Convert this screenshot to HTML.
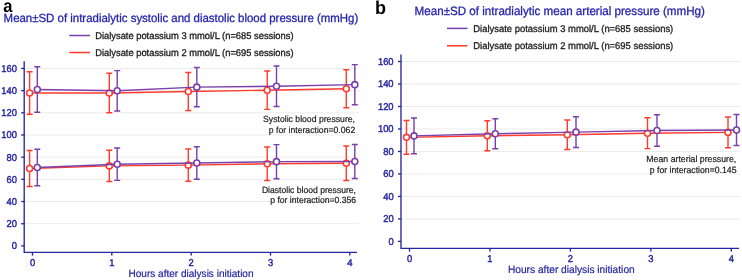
<!DOCTYPE html>
<html><head><meta charset="utf-8"><style>
html,body{margin:0;padding:0;background:#fff;width:742px;height:280px;overflow:hidden}
svg{display:block;will-change:transform}
text{font-family:"Liberation Sans", sans-serif;text-rendering:geometricPrecision}
</style></head><body>
<svg width="742" height="280" viewBox="0 0 742 280">
<rect width="742" height="280" fill="#fff"/>
<text transform="translate(3.2 12.1) scale(1 1.1)" font-size="16.5" fill="#000" font-weight="bold">a</text>
<text transform="translate(375 14.2) scale(1 1.04)" font-size="18" fill="#000" font-weight="bold">b</text>
<text transform="translate(3.6 21.5) scale(1 1.04)" font-size="11.45" fill="#2626ae" stroke="#2626ae" stroke-width="0.3">Mean±SD of intradialytic systolic and diastolic blood pressure (mmHg)</text>
<text transform="translate(414.6 14.8) scale(1 1.04)" font-size="11.62" fill="#2626ae" stroke="#2626ae" stroke-width="0.3">Mean±SD of intradialytic mean arterial pressure (mmHg)</text>
<line x1="69.3" y1="35.5" x2="90" y2="35.5" stroke="#7a3fab" stroke-width="1.5"/>
<line x1="69.3" y1="52.5" x2="90" y2="52.5" stroke="#ff3b2b" stroke-width="1.5"/>
<text transform="translate(95.2 38.8) scale(1 1.04)" font-size="9.35" fill="#1c1c1c" stroke="#1c1c1c" stroke-width="0.3">Dialysate potassium 3 mmol/L (n=685 sessions)</text>
<text transform="translate(95.2 55.7) scale(1 1.04)" font-size="9.35" fill="#1c1c1c" stroke="#1c1c1c" stroke-width="0.3">Dialysate potassium 2 mmol/L (n=695 sessions)</text>
<line x1="447" y1="28.4" x2="467.5" y2="28.4" stroke="#7a3fab" stroke-width="1.5"/>
<line x1="447" y1="45.8" x2="467.5" y2="45.8" stroke="#ff3b2b" stroke-width="1.5"/>
<text transform="translate(473.3 31.5) scale(1 1.04)" font-size="9.43" fill="#1c1c1c" stroke="#1c1c1c" stroke-width="0.3">Dialysate potassium 3 mmol/L (n=685 sessions)</text>
<text transform="translate(473.3 48.8) scale(1 1.04)" font-size="9.43" fill="#1c1c1c" stroke="#1c1c1c" stroke-width="0.3">Dialysate potassium 2 mmol/L (n=695 sessions)</text>
<line x1="24.9" y1="68.45" x2="359" y2="68.45" stroke="#ebebeb" stroke-width="1"/>
<line x1="24.9" y1="90.63" x2="359" y2="90.63" stroke="#ebebeb" stroke-width="1"/>
<line x1="24.9" y1="112.81" x2="359" y2="112.81" stroke="#ebebeb" stroke-width="1"/>
<line x1="24.9" y1="134.99" x2="359" y2="134.99" stroke="#ebebeb" stroke-width="1"/>
<line x1="24.9" y1="157.17" x2="359" y2="157.17" stroke="#ebebeb" stroke-width="1"/>
<line x1="24.9" y1="179.35" x2="359" y2="179.35" stroke="#ebebeb" stroke-width="1"/>
<line x1="24.9" y1="201.53" x2="359" y2="201.53" stroke="#ebebeb" stroke-width="1"/>
<line x1="24.9" y1="223.71" x2="359" y2="223.71" stroke="#ebebeb" stroke-width="1"/>
<path d="M24.2 61.2 V252.3 H357" fill="none" stroke="#2626a2" stroke-width="1.35"/>
<line x1="21.2" y1="68.45" x2="24.2" y2="68.45" stroke="#2626a2" stroke-width="1.35"/>
<text transform="translate(16.9 71.85) scale(1 1.06)" font-size="9.4" fill="#2626a2" stroke="#2626a2" stroke-width="0.4" text-anchor="end">160</text>
<line x1="21.2" y1="90.63" x2="24.2" y2="90.63" stroke="#2626a2" stroke-width="1.35"/>
<text transform="translate(16.9 94.03) scale(1 1.06)" font-size="9.4" fill="#2626a2" stroke="#2626a2" stroke-width="0.4" text-anchor="end">140</text>
<line x1="21.2" y1="112.81" x2="24.2" y2="112.81" stroke="#2626a2" stroke-width="1.35"/>
<text transform="translate(16.9 116.21) scale(1 1.06)" font-size="9.4" fill="#2626a2" stroke="#2626a2" stroke-width="0.4" text-anchor="end">120</text>
<line x1="21.2" y1="134.99" x2="24.2" y2="134.99" stroke="#2626a2" stroke-width="1.35"/>
<text transform="translate(16.9 138.39) scale(1 1.06)" font-size="9.4" fill="#2626a2" stroke="#2626a2" stroke-width="0.4" text-anchor="end">100</text>
<line x1="21.2" y1="157.17" x2="24.2" y2="157.17" stroke="#2626a2" stroke-width="1.35"/>
<text transform="translate(16.9 160.57) scale(1 1.06)" font-size="9.4" fill="#2626a2" stroke="#2626a2" stroke-width="0.4" text-anchor="end">80</text>
<line x1="21.2" y1="179.35" x2="24.2" y2="179.35" stroke="#2626a2" stroke-width="1.35"/>
<text transform="translate(16.9 182.75) scale(1 1.06)" font-size="9.4" fill="#2626a2" stroke="#2626a2" stroke-width="0.4" text-anchor="end">60</text>
<line x1="21.2" y1="201.53" x2="24.2" y2="201.53" stroke="#2626a2" stroke-width="1.35"/>
<text transform="translate(16.9 204.93) scale(1 1.06)" font-size="9.4" fill="#2626a2" stroke="#2626a2" stroke-width="0.4" text-anchor="end">40</text>
<line x1="21.2" y1="223.71" x2="24.2" y2="223.71" stroke="#2626a2" stroke-width="1.35"/>
<text transform="translate(16.9 227.11) scale(1 1.06)" font-size="9.4" fill="#2626a2" stroke="#2626a2" stroke-width="0.4" text-anchor="end">20</text>
<line x1="21.2" y1="245.89" x2="24.2" y2="245.89" stroke="#2626a2" stroke-width="1.35"/>
<text transform="translate(16.9 249.29) scale(1 1.06)" font-size="9.4" fill="#2626a2" stroke="#2626a2" stroke-width="0.4" text-anchor="end">0</text>
<line x1="32.5" y1="252.3" x2="32.5" y2="255.60000000000002" stroke="#2626a2" stroke-width="1.35"/>
<text transform="translate(32.5 265.7) scale(1 1.06)" font-size="9.4" fill="#2626a2" stroke="#2626a2" stroke-width="0.4" text-anchor="middle">0</text>
<line x1="111.8" y1="252.3" x2="111.8" y2="255.60000000000002" stroke="#2626a2" stroke-width="1.35"/>
<text transform="translate(111.8 265.7) scale(1 1.06)" font-size="9.4" fill="#2626a2" stroke="#2626a2" stroke-width="0.4" text-anchor="middle">1</text>
<line x1="191.2" y1="252.3" x2="191.2" y2="255.60000000000002" stroke="#2626a2" stroke-width="1.35"/>
<text transform="translate(191.2 265.7) scale(1 1.06)" font-size="9.4" fill="#2626a2" stroke="#2626a2" stroke-width="0.4" text-anchor="middle">2</text>
<line x1="270.5" y1="252.3" x2="270.5" y2="255.60000000000002" stroke="#2626a2" stroke-width="1.35"/>
<text transform="translate(270.5 265.7) scale(1 1.06)" font-size="9.4" fill="#2626a2" stroke="#2626a2" stroke-width="0.4" text-anchor="middle">3</text>
<line x1="349.8" y1="252.3" x2="349.8" y2="255.60000000000002" stroke="#2626a2" stroke-width="1.35"/>
<text transform="translate(349.8 265.7) scale(1 1.06)" font-size="9.4" fill="#2626a2" stroke="#2626a2" stroke-width="0.4" text-anchor="middle">4</text>
<path d="M29.6 150.50 V186.50 M26.6 150.50 H32.6 M26.6 186.50 H32.6 M109.3 150.30 V181.50 M106.3 150.30 H112.3 M106.3 181.50 H112.3 M188.3 149.00 V181.30 M185.3 149.00 H191.3 M185.3 181.30 H191.3 M267.2 147.00 V180.50 M264.2 147.00 H270.2 M264.2 180.50 H270.2 M346.3 146.00 V180.50 M343.3 146.00 H349.3 M343.3 180.50 H349.3" fill="none" stroke="#ff3b2b" stroke-width="1.4"/>
<polyline points="29.6,168.5 109.3,165.9 188.3,165.15 267.2,163.75 346.3,163.25" fill="none" stroke="#ff3b2b" stroke-width="1.45"/>
<circle cx="29.6" cy="168.5" r="3.0" fill="#fff" stroke="#ff3b2b" stroke-width="1.6"/>
<circle cx="109.3" cy="165.9" r="3.0" fill="#fff" stroke="#ff3b2b" stroke-width="1.6"/>
<circle cx="188.3" cy="165.15" r="3.0" fill="#fff" stroke="#ff3b2b" stroke-width="1.6"/>
<circle cx="267.2" cy="163.75" r="3.0" fill="#fff" stroke="#ff3b2b" stroke-width="1.6"/>
<circle cx="346.3" cy="163.25" r="3.0" fill="#fff" stroke="#ff3b2b" stroke-width="1.6"/>
<path d="M29.6 71.80 V114.20 M26.6 71.80 H32.6 M26.6 114.20 H32.6 M109.3 73.20 V112.80 M106.3 73.20 H112.3 M106.3 112.80 H112.3 M188.3 72.50 V110.50 M185.3 72.50 H191.3 M185.3 110.50 H191.3 M267.2 71.00 V109.40 M264.2 71.00 H270.2 M264.2 109.40 H270.2 M346.3 69.80 V107.80 M343.3 69.80 H349.3 M343.3 107.80 H349.3" fill="none" stroke="#ff3b2b" stroke-width="1.4"/>
<polyline points="29.6,93.0 109.3,93.0 188.3,91.5 267.2,90.2 346.3,88.8" fill="none" stroke="#ff3b2b" stroke-width="1.45"/>
<circle cx="29.6" cy="93.0" r="3.0" fill="#fff" stroke="#ff3b2b" stroke-width="1.6"/>
<circle cx="109.3" cy="93.0" r="3.0" fill="#fff" stroke="#ff3b2b" stroke-width="1.6"/>
<circle cx="188.3" cy="91.5" r="3.0" fill="#fff" stroke="#ff3b2b" stroke-width="1.6"/>
<circle cx="267.2" cy="90.2" r="3.0" fill="#fff" stroke="#ff3b2b" stroke-width="1.6"/>
<circle cx="346.3" cy="88.8" r="3.0" fill="#fff" stroke="#ff3b2b" stroke-width="1.6"/>
<path d="M37.3 149.20 V185.80 M34.3 149.20 H40.3 M34.3 185.80 H40.3 M117.2 148.05 V180.35 M114.2 148.05 H120.2 M114.2 180.35 H120.2 M196.8 146.80 V179.30 M193.8 146.80 H199.8 M193.8 179.30 H199.8 M276.5 144.60 V178.70 M273.5 144.60 H279.5 M273.5 178.70 H279.5 M354.8 144.50 V178.50 M351.8 144.50 H357.8 M351.8 178.50 H357.8" fill="none" stroke="#7a3fab" stroke-width="1.4"/>
<polyline points="37.3,167.5 117.2,164.2 196.8,163.05 276.5,161.65 354.8,161.5" fill="none" stroke="#7a3fab" stroke-width="1.45"/>
<circle cx="37.3" cy="167.5" r="3.0" fill="#fff" stroke="#7a3fab" stroke-width="1.6"/>
<circle cx="117.2" cy="164.2" r="3.0" fill="#fff" stroke="#7a3fab" stroke-width="1.6"/>
<circle cx="196.8" cy="163.05" r="3.0" fill="#fff" stroke="#7a3fab" stroke-width="1.6"/>
<circle cx="276.5" cy="161.65" r="3.0" fill="#fff" stroke="#7a3fab" stroke-width="1.6"/>
<circle cx="354.8" cy="161.5" r="3.0" fill="#fff" stroke="#7a3fab" stroke-width="1.6"/>
<path d="M37.3 66.80 V112.30 M34.3 66.80 H40.3 M34.3 112.30 H40.3 M117.2 70.60 V111.00 M114.2 70.60 H120.2 M114.2 111.00 H120.2 M196.8 67.50 V106.80 M193.8 67.50 H199.8 M193.8 106.80 H199.8 M276.5 66.00 V106.50 M273.5 66.00 H279.5 M273.5 106.50 H279.5 M354.8 64.60 V104.70 M351.8 64.60 H357.8 M351.8 104.70 H357.8" fill="none" stroke="#7a3fab" stroke-width="1.4"/>
<polyline points="37.3,89.55 117.2,90.8 196.8,87.15 276.5,86.25 354.8,84.65" fill="none" stroke="#7a3fab" stroke-width="1.45"/>
<circle cx="37.3" cy="89.55" r="3.0" fill="#fff" stroke="#7a3fab" stroke-width="1.6"/>
<circle cx="117.2" cy="90.8" r="3.0" fill="#fff" stroke="#7a3fab" stroke-width="1.6"/>
<circle cx="196.8" cy="87.15" r="3.0" fill="#fff" stroke="#7a3fab" stroke-width="1.6"/>
<circle cx="276.5" cy="86.25" r="3.0" fill="#fff" stroke="#7a3fab" stroke-width="1.6"/>
<circle cx="354.8" cy="84.65" r="3.0" fill="#fff" stroke="#7a3fab" stroke-width="1.6"/>
<text transform="translate(191 276.5) scale(1 1.04)" font-size="10.05" fill="#2626a2" stroke="#2626a2" stroke-width="0.2" text-anchor="middle">Hours after dialysis initiation</text>
<text transform="translate(355.0 121.8) scale(1 1.04)" font-size="8.66" fill="#1c1c1c" stroke="#1c1c1c" stroke-width="0.2" text-anchor="end">Systolic blood pressure,</text>
<text transform="translate(355.2 132.6) scale(1 1.04)" font-size="8.66" fill="#1c1c1c" stroke="#1c1c1c" stroke-width="0.2" text-anchor="end">p for interaction=0.062</text>
<text transform="translate(356 192.6) scale(1 1.04)" font-size="8.6" fill="#1c1c1c" stroke="#1c1c1c" stroke-width="0.2" text-anchor="end">Diastolic blood pressure,</text>
<text transform="translate(356 202.8) scale(1 1.04)" font-size="8.6" fill="#1c1c1c" stroke="#1c1c1c" stroke-width="0.2" text-anchor="end">p for interaction=0.356</text>
<line x1="401.7" y1="61.5" x2="740" y2="61.5" stroke="#ebebeb" stroke-width="1"/>
<line x1="401.7" y1="83.99" x2="740" y2="83.99" stroke="#ebebeb" stroke-width="1"/>
<line x1="401.7" y1="106.48" x2="740" y2="106.48" stroke="#ebebeb" stroke-width="1"/>
<line x1="401.7" y1="128.97" x2="740" y2="128.97" stroke="#ebebeb" stroke-width="1"/>
<line x1="401.7" y1="151.46" x2="740" y2="151.46" stroke="#ebebeb" stroke-width="1"/>
<line x1="401.7" y1="173.95" x2="740" y2="173.95" stroke="#ebebeb" stroke-width="1"/>
<line x1="401.7" y1="196.44" x2="740" y2="196.44" stroke="#ebebeb" stroke-width="1"/>
<line x1="401.7" y1="218.93" x2="740" y2="218.93" stroke="#ebebeb" stroke-width="1"/>
<path d="M401 54.5 V248.3 H739" fill="none" stroke="#2626a2" stroke-width="1.35"/>
<line x1="398" y1="61.5" x2="401" y2="61.5" stroke="#2626a2" stroke-width="1.35"/>
<text transform="translate(393.6 64.9) scale(1 1.06)" font-size="9.4" fill="#2626a2" stroke="#2626a2" stroke-width="0.4" text-anchor="end">160</text>
<line x1="398" y1="83.99" x2="401" y2="83.99" stroke="#2626a2" stroke-width="1.35"/>
<text transform="translate(393.6 87.39) scale(1 1.06)" font-size="9.4" fill="#2626a2" stroke="#2626a2" stroke-width="0.4" text-anchor="end">140</text>
<line x1="398" y1="106.48" x2="401" y2="106.48" stroke="#2626a2" stroke-width="1.35"/>
<text transform="translate(393.6 109.88) scale(1 1.06)" font-size="9.4" fill="#2626a2" stroke="#2626a2" stroke-width="0.4" text-anchor="end">120</text>
<line x1="398" y1="128.97" x2="401" y2="128.97" stroke="#2626a2" stroke-width="1.35"/>
<text transform="translate(393.6 132.37) scale(1 1.06)" font-size="9.4" fill="#2626a2" stroke="#2626a2" stroke-width="0.4" text-anchor="end">100</text>
<line x1="398" y1="151.46" x2="401" y2="151.46" stroke="#2626a2" stroke-width="1.35"/>
<text transform="translate(393.6 154.86) scale(1 1.06)" font-size="9.4" fill="#2626a2" stroke="#2626a2" stroke-width="0.4" text-anchor="end">80</text>
<line x1="398" y1="173.95" x2="401" y2="173.95" stroke="#2626a2" stroke-width="1.35"/>
<text transform="translate(393.6 177.35) scale(1 1.06)" font-size="9.4" fill="#2626a2" stroke="#2626a2" stroke-width="0.4" text-anchor="end">60</text>
<line x1="398" y1="196.44" x2="401" y2="196.44" stroke="#2626a2" stroke-width="1.35"/>
<text transform="translate(393.6 199.84) scale(1 1.06)" font-size="9.4" fill="#2626a2" stroke="#2626a2" stroke-width="0.4" text-anchor="end">40</text>
<line x1="398" y1="218.93" x2="401" y2="218.93" stroke="#2626a2" stroke-width="1.35"/>
<text transform="translate(393.6 222.33) scale(1 1.06)" font-size="9.4" fill="#2626a2" stroke="#2626a2" stroke-width="0.4" text-anchor="end">20</text>
<line x1="398" y1="241.42" x2="401" y2="241.42" stroke="#2626a2" stroke-width="1.35"/>
<text transform="translate(393.6 244.82) scale(1 1.06)" font-size="9.4" fill="#2626a2" stroke="#2626a2" stroke-width="0.4" text-anchor="end">0</text>
<line x1="409.5" y1="248.3" x2="409.5" y2="251.60000000000002" stroke="#2626a2" stroke-width="1.35"/>
<text transform="translate(409.5 261.7) scale(1 1.06)" font-size="9.4" fill="#2626a2" stroke="#2626a2" stroke-width="0.4" text-anchor="middle">0</text>
<line x1="489.95" y1="248.3" x2="489.95" y2="251.60000000000002" stroke="#2626a2" stroke-width="1.35"/>
<text transform="translate(489.95 261.7) scale(1 1.06)" font-size="9.4" fill="#2626a2" stroke="#2626a2" stroke-width="0.4" text-anchor="middle">1</text>
<line x1="570.4" y1="248.3" x2="570.4" y2="251.60000000000002" stroke="#2626a2" stroke-width="1.35"/>
<text transform="translate(570.4 261.7) scale(1 1.06)" font-size="9.4" fill="#2626a2" stroke="#2626a2" stroke-width="0.4" text-anchor="middle">2</text>
<line x1="650.85" y1="248.3" x2="650.85" y2="251.60000000000002" stroke="#2626a2" stroke-width="1.35"/>
<text transform="translate(650.85 261.7) scale(1 1.06)" font-size="9.4" fill="#2626a2" stroke="#2626a2" stroke-width="0.4" text-anchor="middle">3</text>
<line x1="731.3" y1="248.3" x2="731.3" y2="251.60000000000002" stroke="#2626a2" stroke-width="1.35"/>
<text transform="translate(731.3 261.7) scale(1 1.06)" font-size="9.4" fill="#2626a2" stroke="#2626a2" stroke-width="0.4" text-anchor="middle">4</text>
<path d="M406.5 120.50 V154.20 M403.5 120.50 H409.5 M403.5 154.20 H409.5 M487.3 120.80 V150.80 M484.3 120.80 H490.3 M484.3 150.80 H490.3 M567.3 120.00 V149.50 M564.3 120.00 H570.3 M564.3 149.50 H570.3 M647.5 117.80 V148.60 M644.5 117.80 H650.5 M644.5 148.60 H650.5 M728 117.00 V147.80 M725 117.00 H731 M725 147.80 H731" fill="none" stroke="#ff3b2b" stroke-width="1.4"/>
<polyline points="406.5,137.35 487.3,135.8 567.3,134.75 647.5,133.2 728,132.4" fill="none" stroke="#ff3b2b" stroke-width="1.45"/>
<circle cx="406.5" cy="137.35" r="3.0" fill="#fff" stroke="#ff3b2b" stroke-width="1.6"/>
<circle cx="487.3" cy="135.8" r="3.0" fill="#fff" stroke="#ff3b2b" stroke-width="1.6"/>
<circle cx="567.3" cy="134.75" r="3.0" fill="#fff" stroke="#ff3b2b" stroke-width="1.6"/>
<circle cx="647.5" cy="133.2" r="3.0" fill="#fff" stroke="#ff3b2b" stroke-width="1.6"/>
<circle cx="728" cy="132.4" r="3.0" fill="#fff" stroke="#ff3b2b" stroke-width="1.6"/>
<path d="M414 118.00 V153.80 M411 118.00 H417 M411 153.80 H417 M495.3 118.80 V148.80 M492.3 118.80 H498.3 M492.3 148.80 H498.3 M576 116.80 V147.50 M573 116.80 H579 M573 147.50 H579 M657 114.80 V146.30 M654 114.80 H660 M654 146.30 H660 M736.5 114.50 V145.50 M733.5 114.50 H739.5 M733.5 145.50 H739.5" fill="none" stroke="#7a3fab" stroke-width="1.4"/>
<polyline points="414,135.9 495.3,133.8 576,132.15 657,130.55 736.5,130" fill="none" stroke="#7a3fab" stroke-width="1.45"/>
<circle cx="414" cy="135.9" r="3.0" fill="#fff" stroke="#7a3fab" stroke-width="1.6"/>
<circle cx="495.3" cy="133.8" r="3.0" fill="#fff" stroke="#7a3fab" stroke-width="1.6"/>
<circle cx="576" cy="132.15" r="3.0" fill="#fff" stroke="#7a3fab" stroke-width="1.6"/>
<circle cx="657" cy="130.55" r="3.0" fill="#fff" stroke="#7a3fab" stroke-width="1.6"/>
<circle cx="736.5" cy="130" r="3.0" fill="#fff" stroke="#7a3fab" stroke-width="1.6"/>
<text transform="translate(571.3 272.5) scale(1 1.04)" font-size="10.2" fill="#2626a2" stroke="#2626a2" stroke-width="0.2" text-anchor="middle">Hours after dialysis initiation</text>
<text transform="translate(736.3 162.1) scale(1 1.04)" font-size="8.75" fill="#1c1c1c" stroke="#1c1c1c" stroke-width="0.2" text-anchor="end">Mean arterial pressure,</text>
<text transform="translate(736.5 172.6) scale(1 1.04)" font-size="8.7" fill="#1c1c1c" stroke="#1c1c1c" stroke-width="0.2" text-anchor="end">p for interaction=0.145</text>
</svg>
</body></html>
